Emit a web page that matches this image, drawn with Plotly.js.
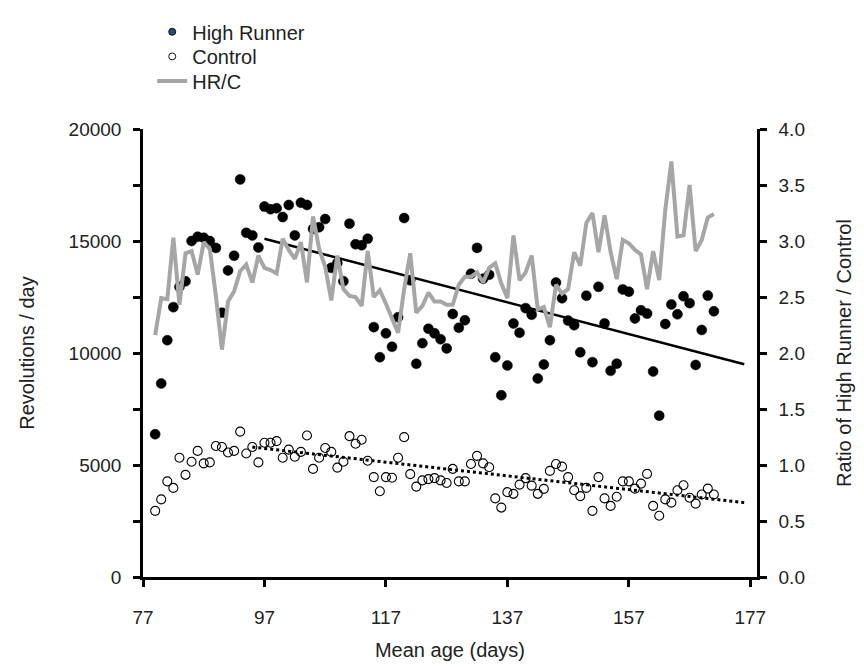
<!DOCTYPE html>
<html>
<head>
<meta charset="utf-8">
<script src="https://cdn.plot.ly/plotly-3.0.1.min.js"></script>
<style>
  html, body { margin: 0; padding: 0; background: #fff; }
  #chart { width: 864px; height: 667px; }
</style>
</head>
<body>
<div id="chart"></div>
<script>
// Mean age (days)
const ages = [79, 80, 81, 82, 83, 84, 85, 86, 87, 88,
  89, 90, 91, 92, 93, 94, 95, 96, 97, 98,
  99, 100, 101, 102, 103, 104, 105, 106, 107, 108,
  109, 110, 111, 112, 113, 114, 115, 116, 117, 118,
  119, 120, 121, 122, 123, 124, 125, 126, 127, 128,
  129, 130, 131, 132, 133, 134, 135, 136, 137, 138,
  139, 140, 141, 142, 143, 144, 145, 146, 147, 148,
  149, 150, 151, 152, 153, 154, 155, 156, 157, 158,
  159, 160, 161, 162, 163, 164, 165, 166, 167, 168,
  169, 170, 171];

// High Runner revolutions / day
const highRunner = [6374, 8640, 10570, 12047, 12953, 13200, 15000, 15190, 15146, 15000,
  14693, 11800, 13684, 14342, 17750, 15365, 15250, 14708, 16535, 16418,
  16462, 16067, 16608, 15250, 16710, 16608, 15541, 15614, 15980, 13801,
  14020, 13202, 15775, 14854, 14810, 15102, 11155, 9810, 10877, 10277,
  11594, 16023, 13246, 9518, 10439, 11082, 10877, 10614, 10205, 11740,
  11126, 11462, 13538, 14693, 13319, 13494, 9810, 8114, 9444, 11316,
  10906, 12003, 11710, 8860, 9488, 10570, 13144, 12442, 11447, 11243,
  10029, 12559, 9591, 12953, 11321, 9204, 9525, 12839, 12737, 11540,
  11905, 11759, 9175, 7204, 11292, 12168, 11730, 12533, 12226, 9467,
  11029, 12562, 11861];

// Control revolutions / day
const control = [2953, 3465, 4269, 3977, 5322, 4561, 5146, 5629, 5073, 5117,
  5848, 5804, 5556, 5629, 6491, 5512, 5804, 5117, 5994, 5994,
  6067, 5322, 5687, 5366, 5585, 6316, 4825, 5322, 5760, 5585,
  4883, 5146, 6287, 5950, 6126, 5190, 4459, 3830, 4459, 4430,
  5322, 6243, 4591, 4035, 4313, 4371, 4415, 4313, 4196, 4825,
  4269, 4269, 5044, 5409, 5073, 4898, 3509, 3099, 3787, 3713,
  4123, 4415, 4079, 3713, 3933, 4737, 5044, 4927, 4459, 3874,
  3611, 3977, 2953, 4459, 3509, 3173, 3582, 4269, 4269, 3947,
  4167, 4605, 3173, 2734, 3465, 3319, 3874, 4094, 3538, 3275,
  3684, 3947, 3684];

// Ratio HR / C (right axis)
const ratioHRC = [2.16, 2.49, 2.48, 3.03, 2.43, 2.89, 2.91, 2.70, 2.99, 2.93,
  2.51, 2.03, 2.46, 2.55, 2.73, 2.79, 2.63, 2.87, 2.76, 2.74,
  2.71, 3.02, 2.92, 2.84, 2.99, 2.63, 3.22, 2.93, 2.77, 2.47,
  2.87, 2.57, 2.51, 2.50, 2.42, 2.91, 2.50, 2.56, 2.44, 2.32,
  2.18, 2.57, 2.89, 2.36, 2.42, 2.54, 2.46, 2.46, 2.43, 2.43,
  2.61, 2.68, 2.68, 2.72, 2.63, 2.76, 2.80, 2.62, 2.49, 3.05,
  2.65, 2.72, 2.87, 2.39, 2.41, 2.23, 2.61, 2.53, 2.57, 2.90,
  2.78, 3.16, 3.25, 2.90, 3.23, 2.90, 2.66, 3.01, 2.98, 2.92,
  2.88, 2.57, 2.91, 2.65, 3.28, 3.71, 3.04, 3.05, 3.50, 2.91,
  3.01, 3.21, 3.24];

// Linear trend lines (end points)
const hrTrendAge = [97, 176];
const hrTrendVal = [15100, 9500];
const ctrlTrendAge = [95, 176];
const ctrlTrendVal = [5800, 3320];

// Tick labels
const xTicks = [77, 97, 117, 137, 157, 177];
const yTicks = [0, 5000, 10000, 15000, 20000];
const y2Ticks = [0, 0.5, 1.0, 1.5, 2.0, 2.5, 3.0, 3.5, 4.0];

const FONT = 'Liberation Sans, Arial, sans-serif';
const TXT = '#222';

const traces = [
  {
    x: ages, y: ratioHRC, yaxis: 'y2', type: 'scatter', mode: 'lines',
    line: { color: '#a6a6a6', width: 4 }, showlegend: false, hoverinfo: 'skip'
  },
  {
    x: hrTrendAge, y: hrTrendVal, type: 'scatter', mode: 'lines',
    line: { color: '#000', width: 2.5 }, showlegend: false
  },
  {
    x: ctrlTrendAge, y: ctrlTrendVal, type: 'scatter', mode: 'lines',
    line: { color: '#000', width: 3, dash: 'dot' }, showlegend: false
  },
  {
    x: ages, y: highRunner, type: 'scatter', mode: 'markers',
    marker: { color: '#000', size: 10, line: { color: '#000', width: 0.5 } },
    showlegend: false
  },
  {
    x: ages, y: control, type: 'scatter', mode: 'markers',
    marker: { color: 'rgba(255,255,255,0)', size: 9, line: { color: '#000', width: 1.1 } },
    showlegend: false
  },
  // legend entries (one per legend box so rows can be placed precisely)
  {
    x: [null], y: [null], type: 'scatter', mode: 'markers', name: 'High Runner', legend: 'legend',
    marker: { color: '#1f4e79', size: 7, line: { color: '#111', width: 1 } }
  },
  {
    x: [null], y: [null], type: 'scatter', mode: 'markers', name: 'Control', legend: 'legend2',
    marker: { color: '#fff', size: 7, line: { color: '#111', width: 1 } }
  },
  {
    x: [null], y: [null], type: 'scatter', mode: 'lines', name: 'HR/C', legend: 'legend3',
    line: { color: '#a6a6a6', width: 4 }
  }
];

const axisCommon = {
  showline: true, linecolor: '#000', linewidth: 2.5,
  ticks: 'outside', ticklen: 7, tickwidth: 2.5, tickcolor: '#000',
  showgrid: false, zeroline: false,
  tickfont: { family: FONT, size: 19, color: TXT }
};

function legendBox(yPos) {
  return {
    x: 0.015, y: yPos, xanchor: 'left', yanchor: 'middle',
    font: { family: FONT, size: 20, color: TXT },
    bgcolor: 'rgba(0,0,0,0)', itemwidth: 30, borderwidth: 0
  };
}

const layout = {
  width: 864, height: 667,
  margin: { l: 143, r: 107, t: 121, b: 90 },
  paper_bgcolor: '#fff', plot_bgcolor: '#fff',
  font: { family: FONT, color: TXT },
  showlegend: true,
  legend: legendBox(1.217),
  legend2: legendBox(1.162),
  legend3: legendBox(1.107),
  xaxis: Object.assign({}, axisCommon, {
    range: [77, 178.1], tickmode: 'array', tickvals: xTicks,
    ticklabelstandoff: 14,
    title: { text: 'Mean age (days)', font: { family: FONT, size: 20, color: TXT }, standoff: 17 },
    automargin: false
  }),
  yaxis: Object.assign({}, axisCommon, {
    range: [0, 20000], tickmode: 'array', tickvals: yTicks, tickformat: 'd',
    ticklabelstandoff: 8,
    minor: { dtick: 2500, tick0: 0, ticks: 'outside', ticklen: 7, tickwidth: 2.5, tickcolor: '#000', showgrid: false },
    title: { text: 'Revolutions / day', font: { family: FONT, size: 20, color: TXT }, standoff: 29 },
    automargin: false
  }),
  yaxis2: Object.assign({}, axisCommon, {
    overlaying: 'y', side: 'right', anchor: 'x',
    range: [0, 4], tickmode: 'array', tickvals: y2Ticks, tickformat: '.1f',
    ticklabelstandoff: 8,
    title: { text: 'Ratio of High Runner / Control', font: { family: FONT, size: 20, color: TXT }, standoff: 34 },
    automargin: false
  })
};

Plotly.newPlot('chart', traces, layout, { displayModeBar: false, responsive: false });
</script>
</body>
</html>
